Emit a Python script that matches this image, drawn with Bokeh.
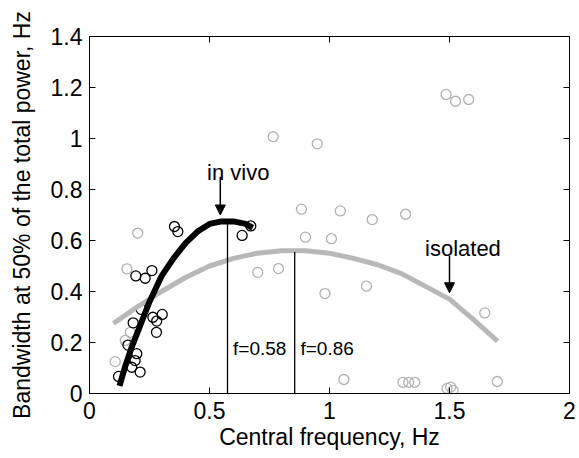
from bokeh.plotting import figure
from bokeh.models import Range1d, LinearAxis, FixedTicker, Arrow, NormalHead
from bokeh.core.properties import value
from bokeh.embed import file_html
from bokeh.resources import INLINE

# ---- data ----
x_ticks = [0, 0.5, 1, 1.5, 2]
x_tick_labels = ["0", "0.5", "1", "1.5", "2"]
y_ticks = [0, 0.2, 0.4, 0.6, 0.8, 1.0, 1.2, 1.4]
y_tick_labels = ["0", "0.2", "0.4", "0.6", "0.8", "1", "1.2", "1.4"]

# in vivo scatter (black circles)
vivo_x = [0.354, 0.368, 0.636, 0.672, 0.193, 0.232, 0.26, 0.182, 0.264, 0.28,
          0.303, 0.279, 0.197, 0.19, 0.176, 0.211, 0.121, 0.16, 0.215]
vivo_y = [0.655, 0.635, 0.62, 0.657, 0.461, 0.452, 0.482, 0.277, 0.299, 0.284,
          0.31, 0.24, 0.156, 0.129, 0.103, 0.084, 0.067, 0.19, 0.33]

# isolated scatter (gray circles)
iso_x = [1.486, 1.525, 1.58, 0.765, 0.949, 0.883, 1.045, 1.178, 1.317, 0.9,
         1.008, 0.701, 0.7875, 1.154, 0.981, 1.647, 1.06, 1.306, 1.33, 1.355,
         1.699, 1.49, 1.505, 1.515, 0.201, 0.156, 0.107, 0.149, 0.17]
iso_y = [1.173, 1.146, 1.153, 1.007, 0.979, 0.723, 0.716, 0.682, 0.703, 0.613,
         0.607, 0.475, 0.49, 0.421, 0.392, 0.316, 0.055, 0.044, 0.044, 0.044,
         0.047, 0.02, 0.025, 0.012, 0.629, 0.489, 0.125, 0.208, 0.24]

# fitted curves
vivo_fit_x = [0.125, 0.15, 0.175, 0.2, 0.225, 0.25, 0.275, 0.3, 0.35, 0.4,
              0.45, 0.5, 0.55, 0.6, 0.65, 0.68]
vivo_fit_y = [0.03, 0.11, 0.18, 0.24, 0.30, 0.36, 0.41, 0.46, 0.53, 0.59,
              0.635, 0.665, 0.675, 0.675, 0.665, 0.65]
iso_fit_x = [0.1, 0.2, 0.3, 0.4, 0.5, 0.6, 0.7, 0.8, 0.9, 1.0, 1.1, 1.2,
             1.3, 1.4, 1.5, 1.6, 1.7]
iso_fit_y = [0.275, 0.34, 0.40, 0.455, 0.50, 0.53, 0.55, 0.56, 0.56, 0.55,
             0.53, 0.505, 0.47, 0.42, 0.37, 0.29, 0.205]

# peak markers
peak_x = [0.575, 0.855]
peak_top = [0.675, 0.555]
peak_labels = ["f=0.58", "f=0.86"]
peak_label_x = [0.598, 0.879]
peak_label_y = [0.175, 0.175]

# annotations
note_labels = ["in vivo", "isolated"]
note_x = [0.62, 1.556]
note_y = [0.868, 0.567]
arrow_x = [0.545, 1.5]
arrow_y0 = [0.85, 0.54]
arrow_y1 = [0.70, 0.395]

GRAY = "#b0b0b0"
FONT = "Liberation Sans"

p = figure(width=579, height=458, output_backend="svg", toolbar_location=None,
           x_range=Range1d(0, 2), y_range=Range1d(0, 1.4),
           min_border_left=89, min_border_right=10, min_border_top=36,
           min_border_bottom=65, background_fill_color="white",
           border_fill_color="white")
p.grid.visible = False
p.outline_line_color = "black"
p.outline_line_width = 1

def style_axis(ax, ticks, labels, show):
    ax.ticker = FixedTicker(ticks=ticks)
    ax.major_label_overrides = {t: (l if show else "") for t, l in zip(ticks, labels)}
    ax.major_tick_in = 6
    ax.major_tick_out = 0
    ax.minor_tick_line_color = None
    ax.axis_line_color = "black"
    ax.major_tick_line_color = "black"
    ax.major_label_text_font = FONT
    ax.major_label_text_font_size = "23px" if show else "1px"
    ax.major_label_text_color = "black"
    ax.axis_label_text_font = FONT
    ax.axis_label_text_font_size = "23px"
    ax.axis_label_text_font_style = "normal"
    ax.axis_label_text_color = "black"

style_axis(p.xaxis[0], x_ticks, x_tick_labels, True)
style_axis(p.yaxis[0], y_ticks, y_tick_labels, True)
p.xaxis[0].axis_label = "Central frequency, Hz"
p.yaxis[0].axis_label = "Bandwidth at 50% of the total power, Hz"
p.xaxis[0].major_label_standoff = 8
p.xaxis[0].axis_label_standoff = 2
p.yaxis[0].major_label_standoff = 7
p.yaxis[0].axis_label_standoff = 13

top_ax = LinearAxis()
style_axis(top_ax, x_ticks, x_tick_labels, False)
top_ax.major_label_standoff = 0
p.add_layout(top_ax, "above")
right_ax = LinearAxis()
style_axis(right_ax, y_ticks, y_tick_labels, False)
right_ax.major_label_standoff = 0
p.add_layout(right_ax, "right")

# scatter
p.scatter(iso_x, iso_y, marker="circle", size=10, fill_color=None,
          line_color=GRAY, line_width=1.3)
p.scatter(vivo_x, vivo_y, marker="circle", size=10, fill_color=None,
          line_color="black", line_width=1.3)

# fitted curves
p.line(iso_fit_x, iso_fit_y, line_color="#b8b8b8", line_width=5)
p.line(vivo_fit_x, vivo_fit_y, line_color="black", line_width=6)

# peak lines
p.segment(x0=peak_x, y0=[0, 0], x1=peak_x, y1=peak_top,
          line_color="black", line_width=1.3)
p.text(peak_label_x, peak_label_y, text=peak_labels, text_font=value(FONT),
       text_font_size="19px", text_color="black", text_align="left",
       text_baseline="alphabetic")

# annotations
p.text(note_x, note_y, text=note_labels, text_font=value(FONT),
       text_font_size="22px", text_color="black", text_align="center",
       text_baseline="alphabetic")
for ax_, y0, y1 in zip(arrow_x, arrow_y0, arrow_y1):
    p.add_layout(Arrow(end=NormalHead(size=10, fill_color="black",
                                      line_color="black"),
                       x_start=ax_, y_start=y0, x_end=ax_, y_end=y1,
                       line_color="black", line_width=1.5))

open("out.html", "w").write(file_html(p, INLINE))
